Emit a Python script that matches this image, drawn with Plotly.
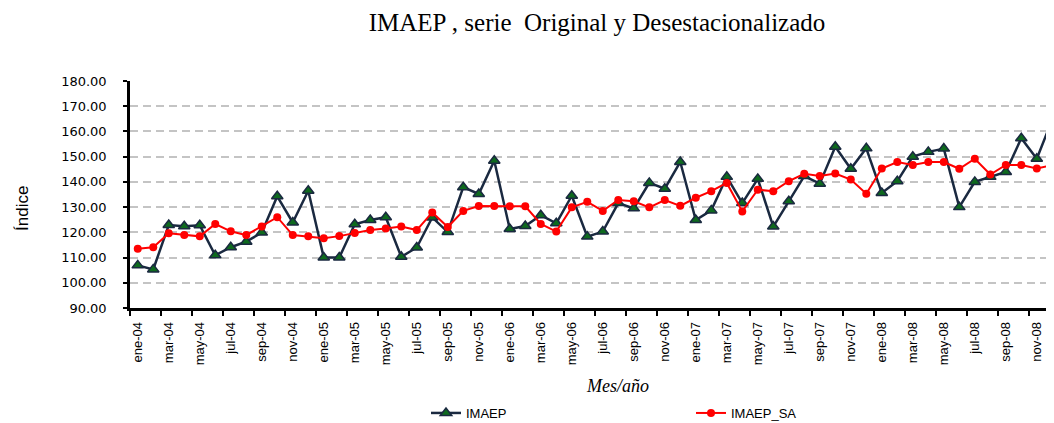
import plotly.graph_objects as go

meses = ["ene", "feb", "mar", "abr", "may", "jun", "jul", "ago", "sep", "oct", "nov", "dic"]
anios = ["04", "05", "06", "07", "08"]
periodos = [f"{m}-{a}" for a in anios for m in meses]

imaep = [106.9, 105.3, 122.9, 122.4, 122.8, 110.9, 114.1, 116.3, 119.9, 134.3, 123.9, 136.5,
         110.0, 110.0, 123.2, 124.9, 126.0, 110.3, 114.0, 125.9, 120.1, 137.9, 135.2, 148.4,
         121.3, 122.5, 126.8, 123.6, 134.5, 118.3, 120.3, 131.6, 129.5, 139.6, 137.3, 147.9,
         124.9, 128.7, 142.0, 131.6, 141.2, 122.3, 132.3, 142.3, 139.3, 153.9, 145.2, 153.3,
         135.6, 140.3, 150.0, 151.9, 153.2, 130.0, 140.0, 142.0, 143.9, 157.3, 149.2, 164.7]

imaep_sa = [113.5, 114.1, 119.6, 118.9, 118.4, 123.3, 120.4, 118.9, 122.3, 126.0, 118.9, 118.4,
            117.7, 118.5, 119.7, 120.9, 121.5, 122.3, 120.9, 127.9, 122.1, 128.5, 130.4, 130.4,
            130.3, 130.3, 123.3, 120.3, 129.9, 132.1, 128.5, 132.8, 132.3, 129.9, 132.8, 130.5,
            133.7, 136.3, 139.6, 128.3, 136.9, 136.3, 140.3, 143.2, 142.3, 143.3, 140.9, 135.3,
            145.3, 147.9, 146.7, 147.9, 147.9, 145.2, 149.2, 142.9, 146.7, 146.7, 145.3, 146.7]

titulo = "IMAEP , serie  Original y Desestacionalizado"
y_titulo = "Índice"
x_titulo = "Mes/año"

fig = go.Figure()
fig.add_trace(go.Scatter(
    x=periodos, y=imaep, name="IMAEP", mode="lines+markers",
    line=dict(color="#1A2940", width=2.5),
    marker=dict(symbol="triangle-up", size=10, color="#0E6A1E",
                line=dict(color="#1A2940", width=1.5)),
))
fig.add_trace(go.Scatter(
    x=periodos, y=imaep_sa, name="IMAEP_SA", mode="lines+markers",
    line=dict(color="#FF0000", width=2),
    marker=dict(symbol="circle", size=8, color="#FF0000"),
))

# The page body has an 8px margin, so the figure is sized to fit the window.
fig.update_layout(
    width=1046, height=415,
    margin=dict(l=122, r=0, t=73, b=115, autoexpand=False),
    paper_bgcolor="white", plot_bgcolor="white",
    font=dict(family="Liberation Sans, Arial, sans-serif", color="black"),
    title=dict(text=titulo, x=589 / 1046, xref="container", xanchor="center",
               y=1 - 14 / 415, yref="container", yanchor="middle",
               font=dict(family="Liberation Serif, Times New Roman, serif", size=25, color="black")),
    showlegend=True,
    legend=dict(orientation="h", x=(426 - 130) / 924, xanchor="left",
                y=-(413 - 308) / 227, yanchor="middle",
                entrywidth=220, entrywidthmode="pixels",
                font=dict(family="Liberation Sans, Arial, sans-serif", size=13, color="black"),
                bgcolor="rgba(0,0,0,0)"),
    xaxis=dict(type="category", range=[-0.5, 59.11],
               tickmode="linear", tick0=0, dtick=2, tickson="boundaries",
               tickangle=-90, ticks="outside", ticklen=5, tickwidth=1.5, tickcolor="black",
               ticklabelstandoff=6,
               showline=True, linecolor="black", linewidth=2.5, showgrid=False,
               tickfont=dict(family="Liberation Sans, Arial, sans-serif", size=13, color="black")),
    yaxis=dict(range=[90, 180], tickmode="linear", tick0=90, dtick=10, tickformat=".2f",
               ticks="outside", ticklen=4, tickwidth=1.5, tickcolor="black",
               ticklabelstandoff=14,
               showline=True, linecolor="black", linewidth=2.5,
               showgrid=True, gridcolor="#C4C4C4", gridwidth=2, griddash="8px,5px",
               zeroline=False,
               tickfont=dict(family="DejaVu Sans, sans-serif", size=13, color="black")),
    annotations=[
        dict(text=y_titulo, xref="paper", yref="paper", x=(22 - 130) / 924, y=(308 - 209) / 227,
             xanchor="center", yanchor="middle", textangle=-90, showarrow=False,
             font=dict(family="Liberation Sans Narrow, Liberation Sans, Arial, sans-serif", size=17, color="black")),
        dict(text="<i>" + x_titulo + "</i>", xref="paper", yref="paper",
             x=(617 - 130) / 924, y=-(386 - 308) / 227,
             xanchor="center", yanchor="middle", showarrow=False,
             font=dict(family="Liberation Serif, Times New Roman, serif", size=18, color="black")),
    ],
)

fig.write_html("out.html")
